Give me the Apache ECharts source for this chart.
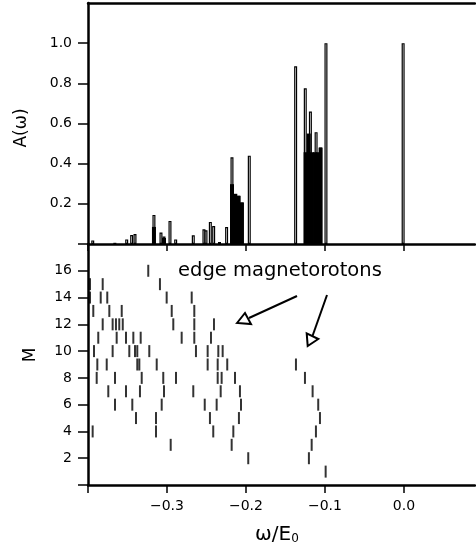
<!DOCTYPE html>
<html>
<head>
<meta charset="utf-8">
<script src="https://cdn.jsdelivr.net/npm/echarts@6/dist/echarts.min.js"></script>
<style>html,body{margin:0;padding:0;background:#fff}#c{width:476px;height:551px}</style>
</head>
<body>
<div id="c"></div>
<script>
// ---- top panel: spectral function A(omega) ----
const barOmega = [-0.394, -0.366, -0.351, -0.3447, -0.3405, -0.3165, -0.3076, -0.3038, -0.2962, -0.289,
  -0.2667, -0.2532, -0.2506, -0.2451, -0.2409, -0.2335, -0.2245, -0.2177, -0.2093, -0.2051, -0.1958,
  -0.1371, -0.1249, -0.1184, -0.1112, -0.1055, -0.0987, -0.001];
const barAmp = [0.018, 0.006, 0.023, 0.045, 0.05, 0.145, 0.057, 0.037, 0.115, 0.023,
  0.043, 0.073, 0.068, 0.11, 0.09, 0.01, 0.085, 0.432, 0.24, 0.207, 0.44,
  0.885, 0.775, 0.66, 0.557, 0.48, 1.0, 1.0];
// filled (black) part
const fillOmega = [-0.3165, -0.3038, -0.2177, -0.2135, -0.2093, -0.2051,
  -0.1245, -0.1205, -0.1165, -0.1125, -0.1085, -0.1055];
const fillAmp = [0.085, 0.03, 0.298, 0.25, 0.24, 0.207,
  0.457, 0.55, 0.457, 0.457, 0.457, 0.48];

// ---- bottom panel: eigenvalues omega for each M ----
const m1 = [-0.0991];
const m2 = [-0.1971, -0.1203];
const m3 = [-0.2953, -0.2181, -0.1168];
const m4 = [-0.3941, -0.3139, -0.2414, -0.216, -0.1114];
const m5 = [-0.3392, -0.3139, -0.2456, -0.2089, -0.1063];
const m6 = [-0.3658, -0.3439, -0.3067, -0.2522, -0.2371, -0.2063, -0.1085];
const m7 = [-0.3743, -0.3519, -0.3342, -0.3038, -0.2667, -0.232, -0.2076, -0.1156];
const m8 = [-0.389, -0.3658, -0.332, -0.3047, -0.2886, -0.2358, -0.2308, -0.2139, -0.1253];
const m9 = [-0.3882, -0.3763, -0.3376, -0.335, -0.313, -0.2485, -0.2358, -0.2237, -0.1367];
const m10 = [-0.3924, -0.3688, -0.3477, -0.3405, -0.3376, -0.3224, -0.2633, -0.2485, -0.235, -0.2295];
const m11 = [-0.387, -0.3637, -0.3519, -0.3426, -0.3333, -0.2814, -0.2654, -0.2443];
const m12 = [-0.3814, -0.3688, -0.3646, -0.3604, -0.356, -0.292, -0.2654, -0.2405];
const m13 = [-0.3933, -0.373, -0.3573, -0.294, -0.2654];
const m14 = [-0.3975, -0.3839, -0.3756, -0.3004, -0.2687];
const m15 = [-0.3975, -0.3814, -0.3089];
const m16 = [-0.3237];

const xTicks = [-0.4, -0.3, -0.2, -0.1, 0.0];
const xLabels = [-0.3, -0.2, -0.1, 0.0];
const aTicks = [0, 0.2, 0.4, 0.6, 0.8, 1.0];
const aLabels = [0.2, 0.4, 0.6, 0.8, 1.0];
const mTicks = [0, 2, 4, 6, 8, 10, 12, 14, 16, 18];
const mLabels = [2, 4, 6, 8, 10, 12, 14, 16];

const FONT = 'DejaVu Sans';
const rows = [m1, m2, m3, m4, m5, m6, m7, m8, m9, m10, m11, m12, m13, m14, m15, m16];
const levelData = [];
rows.forEach((r, i) => r.forEach(w => levelData.push([w, i + 1])));
const barData = barOmega.map((w, i) => [w, barAmp[i]]);
const fillData = fillOmega.map((w, i) => [w, fillAmp[i]]);

const fmtX = v => (Math.abs(v) < 1e-9 ? '0.0' : v.toFixed(1).replace('-', '\u2212'));
const lineStyle = { color: '#000', width: 2.5 };

const chart = echarts.init(document.getElementById('c'), null, { renderer: 'canvas' });
chart.setOption({
  animation: false,
  backgroundColor: '#fff',
  grid: [
    { left: 88, width: 387, top: 3, height: 241 },
    { left: 88, width: 387, top: 244, height: 241 }
  ],
  xAxis: [
    { type: 'value', gridIndex: 0, min: -0.4, max: 0.09, position: 'bottom',
      axisLine: { onZero: false, lineStyle },
      axisTick: { show: true, length: 7, inside: false, customValues: xTicks, lineStyle: { color: '#000', width: 1.5 } },
      axisLabel: { show: false }, splitLine: { show: false } },
    { type: 'value', gridIndex: 0, min: -0.4, max: 0.09, position: 'top',
      axisLine: { onZero: false, lineStyle },
      axisTick: { show: false }, axisLabel: { show: false }, splitLine: { show: false } },
    { type: 'value', gridIndex: 1, min: -0.4, max: 0.09, position: 'bottom',
      axisLine: { onZero: false, lineStyle },
      axisTick: { show: true, length: 8, customValues: xTicks, lineStyle: { color: '#000', width: 1.5 } },
      axisLabel: { customValues: xLabels, formatter: fmtX, color: '#000', fontFamily: FONT, fontSize: 14, margin: 14 },
      splitLine: { show: false } }
  ],
  yAxis: [
    { type: 'value', gridIndex: 0, min: 0, max: 1.2,
      axisLine: { onZero: false, lineStyle },
      axisTick: { show: true, length: 10, customValues: aTicks, lineStyle: { color: '#000', width: 1.5 } },
      axisLabel: { customValues: aLabels, formatter: v => v.toFixed(1), color: '#000', fontFamily: FONT, fontSize: 14, margin: 16 },
      splitLine: { show: false } },
    { type: 'value', gridIndex: 1, min: 0, max: 18,
      axisLine: { onZero: false, lineStyle },
      axisTick: { show: true, length: 10, customValues: mTicks, lineStyle: { color: '#000', width: 1.5 } },
      axisLabel: { customValues: mLabels, color: '#000', fontFamily: FONT, fontSize: 14, margin: 16 },
      splitLine: { show: false } }
  ],
  series: [
    { type: 'bar', xAxisIndex: 0, yAxisIndex: 0, barWidth: 3, data: barData, z: 2,
      itemStyle: { color: '#fff', borderColor: '#000', borderWidth: 1.2 } },
    { type: 'bar', xAxisIndex: 1, yAxisIndex: 0, barWidth: 4, data: fillData, z: 3,
      itemStyle: { color: '#000' } },
    { type: 'scatter', xAxisIndex: 2, yAxisIndex: 1, symbol: 'rect', symbolSize: [2, 12],
      data: levelData, itemStyle: { color: '#000' } }
  ],
  graphic: [
    { type: 'text', x: 22, y: 128, rotation: Math.PI / 2,
      style: { text: 'A(\u03c9)', font: '17px "DejaVu Sans"', fill: '#000', textAlign: 'center', textVerticalAlign: 'middle' } },
    { type: 'text', x: 31, y: 355, rotation: Math.PI / 2,
      style: { text: 'M', font: '17px "DejaVu Sans"', fill: '#000', textAlign: 'center', textVerticalAlign: 'middle' } },
    { type: 'text', x: 277, y: 535,
      style: { text: '{a|\u03c9/E}{b|0}', fill: '#000', textAlign: 'center', textVerticalAlign: 'middle',
        rich: { a: { fontFamily: FONT, fontSize: 20, fill: '#000' }, b: { fontFamily: FONT, fontSize: 12, fill: '#000', verticalAlign: 'bottom' } } } },
    { type: 'text', x: 178, y: 271,
      style: { text: 'edge magnetorotons', font: '19.5px "DejaVu Sans"', fill: '#000', textAlign: 'left', textVerticalAlign: 'middle' } },
    { type: 'line', shape: { x1: 297, y1: 296, x2: 249, y2: 318 }, style: { stroke: '#000', lineWidth: 2 } },
    { type: 'polygon', shape: { points: [[237, 323], [245, 313], [251, 324]] }, style: { fill: '#fff', stroke: '#000', lineWidth: 2 } },
    { type: 'line', shape: { x1: 327, y1: 295, x2: 312.5, y2: 336 }, style: { stroke: '#000', lineWidth: 2 } },
    { type: 'polygon', shape: { points: [[307.7, 346], [306.7, 333.3], [318.3, 339]] }, style: { fill: '#fff', stroke: '#000', lineWidth: 2 } }
  ]
});
</script>
</body>
</html>
